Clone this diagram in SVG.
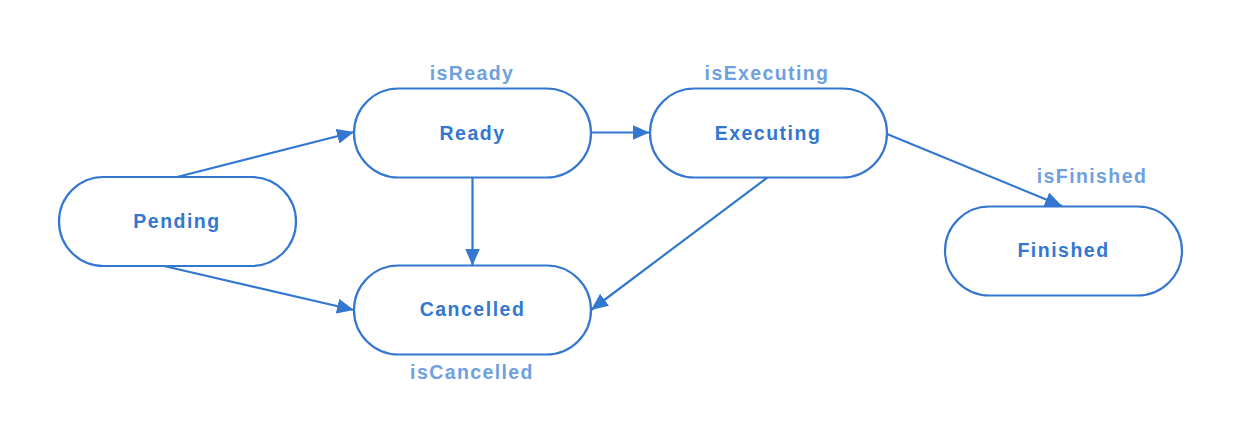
<svg xmlns="http://www.w3.org/2000/svg" width="1242" height="444" viewBox="0 0 1242 444">
<style>
.node rect{fill:#fff;stroke:#3377d0;stroke-width:2.2}
.node text{font-family:"Liberation Sans",Arial,sans-serif;font-weight:bold;font-size:19.5px;fill:#3377d0;text-anchor:middle;letter-spacing:1.5px}
.lbl{font-family:"Liberation Sans",Arial,sans-serif;font-weight:bold;font-size:19.5px;fill:#6fa0e0;text-anchor:middle;letter-spacing:1.4px}
</style>
<defs>
<marker id="ah" viewBox="0 0 17 15" refX="17" refY="7.5" markerWidth="17" markerHeight="15" markerUnits="userSpaceOnUse" orient="auto"><path d="M0,0 L17,7.5 L0,15 z" fill="#3377d0"/></marker>
</defs>
<rect width="1242" height="444" fill="#fff"/>
<g id="connectors" fill="none" stroke="#3377d0" stroke-width="2.2" marker-end="url(#ah)">
<line x1="177" y1="177" x2="354" y2="132"/>
<line x1="164" y1="266" x2="354" y2="310"/>
<line x1="472.5" y1="177" x2="472.5" y2="265.5"/>
<line x1="591" y1="132.5" x2="649.5" y2="132.5"/>
<line x1="768" y1="177" x2="591" y2="310"/>
<line x1="887" y1="134" x2="1062" y2="206"/>
</g>
<g id="pending" class="node"><rect x="59" y="177" width="237" height="89" rx="44.5"/><text x="177" y="228">Pending</text></g>
<g id="ready" class="node"><rect x="354" y="88.5" width="237" height="89" rx="44.5"/><text x="472.5" y="140">Ready</text></g>
<g id="executing" class="node"><rect x="650" y="88.5" width="237" height="89" rx="44.5"/><text x="768" y="140">Executing</text></g>
<g id="finished" class="node"><rect x="945" y="206.5" width="237" height="89" rx="44.5"/><text x="1063.5" y="257">Finished</text></g>
<g id="cancelled" class="node"><rect x="354" y="265.5" width="237" height="89" rx="44.5"/><text x="472.5" y="316">Cancelled</text></g>
<g id="labels">
<text class="lbl" x="472" y="80">isReady</text>
<text class="lbl" x="767" y="80">isExecuting</text>
<text class="lbl" x="1092" y="183">isFinished</text>
<text class="lbl" x="472" y="379">isCancelled</text>
</g>
</svg>
